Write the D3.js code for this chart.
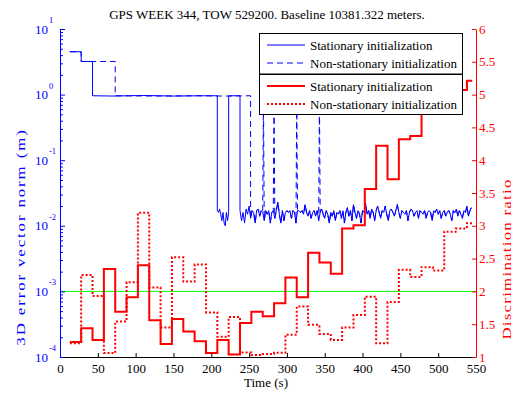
<!DOCTYPE html>
<html><head><meta charset="utf-8">
<script src="https://cdn.jsdelivr.net/npm/d3@7"></script>
<style>
body{margin:0;background:#fff}
text{font-family:"Liberation Serif","Times New Roman","DejaVu Serif",serif}
</style>
</head><body>
<svg id="c" width="520" height="397"></svg>
<script>
// ---------- data ----------
const title = "GPS WEEK 344, TOW 529200. Baseline 10381.322 meters.";
const xLabel = "Time (s)";
const yLeftLabel = "3D error vector norm (m)";
const yRightLabel = "Discrimination ratio";
const xTicks = [0,50,100,150,200,250,300,350,400,450,500,550];
const yLeftExponents = [-4,-3,-2,-1,0,1];
const yRightTicks = [1,1.5,2,2.5,3,3.5,4,4.5,5,5.5,6];
const legendBlue = ["Stationary initialization","Non-stationary initialization"];
const legendRed = ["Stationary initialization","Non-stationary initialization"];
const thresholdRatio = 2;      // green line (also 1e-3 on left axis)

// 3D error norm, stationary initialization: [time s, metres]
const errStatHead = [[13,4.5],[28,4.5],[28,3.2],[43,3.2],[43,0.96],[70,0.95],[110,0.97],[150,0.95],[190,0.96],[208,0.96]];
const errStatGap = [[208,0.017],[209.5,0.016],[211,0.018],[212.5,0.015],[214,0.012],[215.5,0.016],[217,0.011],[218.5,0.010],[220,0.016],[221.5,0.012],[223,0.016]];
const errStatMid = [[223,0.96],[238,0.96]];
// 3D error norm, non-stationary initialization
const errNonStatHead = [[13,4.5],[28,4.5],[28,3.2],[73,3.2],[73,0.96],[120,0.95],[180,0.96],[220,0.95],[252,0.96]];
const errNonStatSpikes = [[269,0.96],[283,0.96],[313,0.96],[343,0.96]];
// converged noisy part (shared), sampled every 2 s from 238 s
const noiseStart = 238, noiseStep = 2;
const errNoise = [
0.017,0.012,0.016,0.011,0.018,0.015,0.020,0.013,0.017,0.016,0.011,0.017,0.018,0.014,0.017,0.016,0.012,0.017,0.015,0.017,0.011,0.016,0.017,0.013,0.017,0.023,0.015,0.011,0.017,0.012,0.016,0.017,
0.016,0.017,0.013,0.017,0.016,0.011,0.017,0.017,0.016,0.017,0.015,0.021,0.016,0.014,0.017,0.013,0.016,0.017,0.014,0.017,0.012,0.016,0.018,0.015,0.013,0.017,0.015,0.011,0.016,0.014,
0.017,0.012,0.016,0.015,0.017,0.013,0.017,0.011,0.016,0.019,0.014,0.017,0.012,0.021,0.016,0.013,0.017,0.015,0.011,0.017,0.016,0.022,0.015,0.017,0.013,0.018,0.016,0.012,0.017,0.020,
0.016,0.013,0.017,0.016,0.020,0.015,0.012,0.017,0.018,0.016,0.014,0.017,0.021,0.016,0.013,0.017,0.016,0.015,0.017,0.012,0.016,0.018,0.017,0.014,0.016,0.017,0.013,0.017,0.016,0.015,
0.017,0.013,0.016,0.017,0.016,0.012,0.017,0.016,0.018,0.015,0.017,0.013,0.016,0.017,0.014,0.016,0.017,0.015,0.012,0.017,0.016,0.018,0.014,0.017,0.015,0.013,0.017,0.016,0.020,0.014,0.017,0.019];

// discrimination ratio, 15 s windows starting at 13 s
const ratioStart = 13, ratioWindow = 15, ratioEnd = 545;
const ratioStationary = [1.23,1.44,1.26,2.34,1.69,1.91,2.40,1.56,1.20,1.58,1.39,1.24,1.06,1.26,1.04,1.52,1.69,1.62,1.82,2.21,1.91,2.59,2.44,2.27,2.96,3.01,3.56,4.22,3.71,4.32,4.37,5.07,5.07,5.07,5.07,5.21];
const ratioNonStationary = [1.21,2.25,1.93,1.06,1.54,2.14,3.20,2.06,1.45,2.52,2.15,2.41,1.68,1.31,1.61,1.07,1.03,1.045,1.065,1.34,1.77,1.49,1.35,1.26,1.45,1.64,1.92,1.21,1.84,2.33,2.22,2.37,2.32,2.91,2.96,3.04];

// ---------- drawing ----------
const BLUE="#0000ff", RED="#ff0000", GREEN="#00ff00", FONT='Liberation Serif, Times New Roman, DejaVu Serif, serif';
const svg = d3.select("#c");
const x = d3.scaleLinear().domain([0,550]).range([60,476]);
const yL = d3.scaleLog().domain([1e-4,10]).range([357,29]);
const yR = d3.scaleLinear().domain([1,6]).range([357,29]);

// threshold line
svg.append("line").attr("x1",x(0)).attr("x2",x(550))
  .attr("y1",yR(thresholdRatio)).attr("y2",yR(thresholdRatio))
  .attr("stroke",GREEN).attr("stroke-width",1);

// blue series
const noisePts = errNoise.map((v,i)=>[noiseStart+i*noiseStep, v]);
const statPts = errStatHead.concat(errStatGap, errStatMid, noisePts);
const nonStatPts = errNonStatHead.concat(noisePts.filter(d=>d[0]>=252), errNonStatSpikes)
  .map((d,i)=>({d,i})).sort((a,b)=>a.d[0]-b.d[0]||a.i-b.i).map(o=>o.d);
const lineL = d3.line().x(d=>x(d[0])).y(d=>yL(d[1]));
svg.append("path").attr("d",lineL(statPts)).attr("fill","none").attr("stroke",BLUE).attr("stroke-width",1);
svg.append("path").attr("d",lineL(nonStatPts)).attr("fill","none").attr("stroke",BLUE).attr("stroke-width",1).attr("stroke-dasharray","6,4");

// red series
const lineR = d3.line().curve(d3.curveStepAfter).x(d=>x(d[0])).y(d=>yR(d[1]));
function ratioPts(vals){
  const p = vals.map((v,i)=>[ratioStart+i*ratioWindow, v]);
  p.push([ratioEnd, vals[vals.length-1]]);
  return p;
}
svg.append("path").attr("d",lineR(ratioPts(ratioNonStationary))).attr("fill","none").attr("stroke",RED).attr("stroke-width",2).attr("stroke-dasharray","2,2");
svg.append("path").attr("d",lineR(ratioPts(ratioStationary))).attr("fill","none").attr("stroke",RED).attr("stroke-width",2);

// bottom axis
const gx = svg.append("g").attr("transform","translate(0,357)")
  .call(d3.axisBottom(x).tickValues(xTicks).tickSizeInner(-4).tickSizeOuter(0).tickPadding(7));
gx.attr("font-family",FONT).attr("font-size",13);
gx.select(".domain").attr("stroke","#000");
gx.selectAll(".tick line").attr("stroke","#000");
gx.selectAll("text").attr("fill","#000");

// left axis (log)
const majors = yLeftExponents.map(e=>Math.pow(10,e));
const minors = [];
yLeftExponents.slice(0,-1).forEach(e=>{for(let k=2;k<=9;k++) minors.push(k*Math.pow(10,e));});
const gl = svg.append("g").attr("transform","translate(60,0)")
  .call(d3.axisLeft(yL).tickValues(majors).tickSizeInner(-5).tickSizeOuter(0).tickFormat(""));
gl.select(".domain").attr("stroke",BLUE);
gl.selectAll(".tick line").attr("stroke",BLUE);
const glm = svg.append("g").attr("transform","translate(60,0)")
  .call(d3.axisLeft(yL).tickValues(minors).tickSizeInner(-3).tickSizeOuter(0).tickFormat(""));
glm.select(".domain").remove();
glm.selectAll(".tick line").attr("stroke",BLUE);
yLeftExponents.forEach(e=>{
  const yy = yL(Math.pow(10,e));
  svg.append("text").attr("x",48).attr("y",yy+4.5).attr("text-anchor","end").attr("font-family",FONT)
    .attr("font-size",13).attr("fill",BLUE).text("10");
  svg.append("text").attr("x",49).attr("y",yy-6).attr("text-anchor","start").attr("font-family",FONT)
    .attr("font-size",8.5).attr("fill",BLUE).text(String(e));
});

// right axis
const gr = svg.append("g").attr("transform","translate(476,0)")
  .call(d3.axisRight(yR).tickValues(yRightTicks).tickSizeInner(-4).tickSizeOuter(0).tickPadding(3).tickFormat(d3.format("")));
gr.attr("font-family",FONT).attr("font-size",13);
gr.select(".domain").attr("stroke",RED);
gr.selectAll(".tick line").attr("stroke",RED);
gr.selectAll("text").attr("fill",RED);

// titles
svg.append("text").attr("x",267).attr("y",19).attr("text-anchor","middle").attr("font-family",FONT).attr("font-size",13).attr("fill","#000").text(title);
svg.append("text").attr("x",266).attr("y",387).attr("text-anchor","middle").attr("font-family",FONT).attr("font-size",13).attr("fill","#000").text(xLabel);
svg.append("text").attr("transform","translate(25,237) rotate(-90) scale(1.25,1)").attr("text-anchor","middle").attr("font-family",FONT)
  .attr("font-size",13.5).attr("letter-spacing",1.5).attr("fill",BLUE).text(yLeftLabel);
svg.append("text").attr("transform","translate(511,259) rotate(-90) scale(1.25,1)").attr("text-anchor","middle").attr("font-family",FONT)
  .attr("font-size",13.5).attr("letter-spacing",1.0).attr("fill",RED).text(yRightLabel);

// legends
function legend(y0, h, labels, color, dashes){
  svg.append("rect").attr("x",259.5).attr("y",y0+0.5).attr("width",203).attr("height",h)
    .attr("fill","#fff").attr("stroke","#000").attr("stroke-width",1);
  labels.forEach((lab,i)=>{
    const yy = y0 + 12 + i*18;
    svg.append("line").attr("x1",267).attr("x2",305).attr("y1",yy).attr("y2",yy)
      .attr("stroke",color).attr("stroke-width",color===RED?2:1)
      .attr("stroke-dasharray",dashes[i]);
    svg.append("text").attr("x",310).attr("y",yy+4.5).attr("font-family",FONT).attr("font-size",13).attr("fill","#000").text(lab);
  });
}
legend(33, 40.5, legendBlue, BLUE, [null,"6,4"]);
legend(74, 40, legendRed, RED, [null,"2,2"]);
</script>
</body></html>
